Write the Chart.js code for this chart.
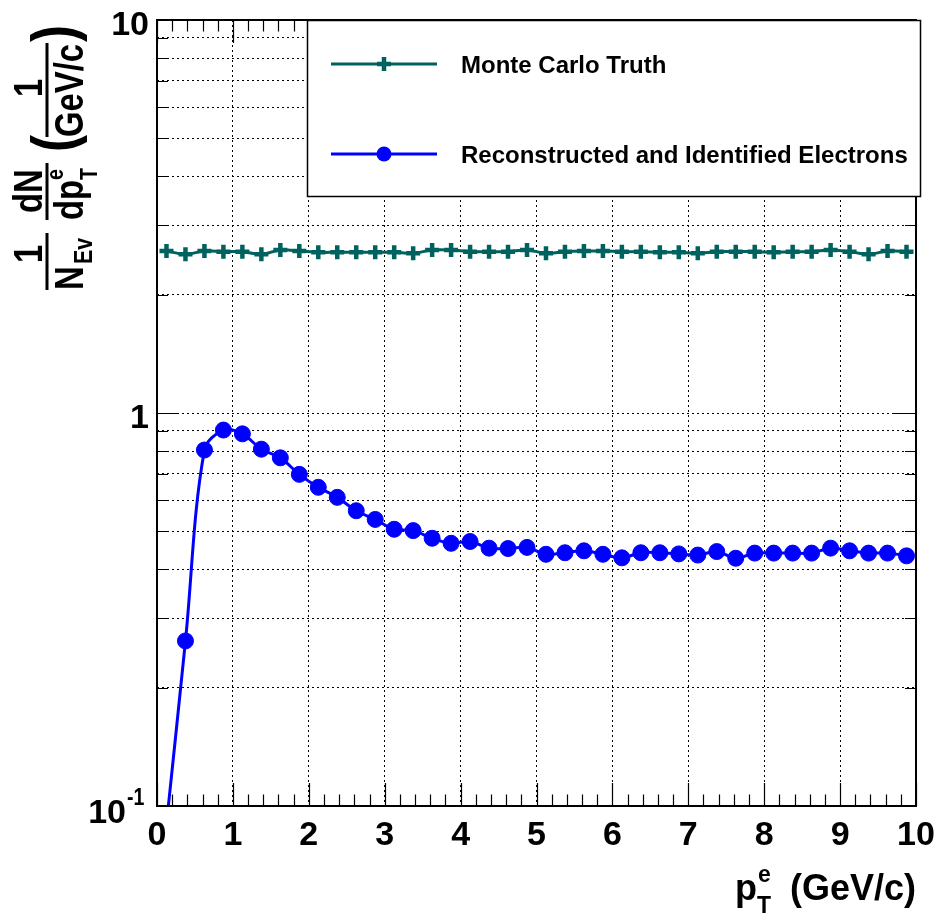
<!DOCTYPE html>
<html>
<head>
<meta charset="utf-8">
<script src="https://cdn.jsdelivr.net/npm/chart.js@4.4.0/dist/chart.umd.min.js"></script>
<style>
  html, body { margin: 0; padding: 0; background: #fff; }
  canvas { display: block; }
</style>
</head>
<body>
<canvas id="spectrum" width="941" height="916"></canvas>
<script>
// bin centres in pT (GeV/c)
const ptBins = [0.125, 0.375, 0.625, 0.875, 1.125, 1.375, 1.625, 1.875, 2.125, 2.375,
  2.625, 2.875, 3.125, 3.375, 3.625, 3.875, 4.125, 4.375, 4.625, 4.875,
  5.125, 5.375, 5.625, 5.875, 6.125, 6.375, 6.625, 6.875, 7.125, 7.375,
  7.625, 7.875, 8.125, 8.375, 8.625, 8.875, 9.125, 9.375, 9.625, 9.875];

const mcTruth = [2.584, 2.534, 2.584, 2.574, 2.574, 2.534, 2.599, 2.584, 2.564, 2.564,
  2.564, 2.564, 2.564, 2.549, 2.599, 2.599, 2.574, 2.574, 2.574, 2.599,
  2.549, 2.574, 2.584, 2.584, 2.574, 2.574, 2.564, 2.564, 2.549, 2.574,
  2.574, 2.574, 2.564, 2.574, 2.574, 2.599, 2.574, 2.534, 2.584, 2.574];

const recoElectrons = [0.09, 0.263, 0.805, 0.905, 0.885, 0.809, 0.769, 0.698, 0.647, 0.610,
  0.564, 0.536, 0.506, 0.502, 0.480, 0.466, 0.471, 0.453, 0.452, 0.455,
  0.437, 0.441, 0.446, 0.437, 0.428, 0.441, 0.441, 0.438, 0.435, 0.444,
  0.427, 0.440, 0.440, 0.440, 0.440, 0.453, 0.446, 0.440, 0.440, 0.433];

const seriesNames = ['Monte Carlo Truth', 'Reconstructed and Identified Electrons'];

const xTickValues = [0, 1, 2, 3, 4, 5, 6, 7, 8, 9, 10];
const xTickLabels = ['0', '1', '2', '3', '4', '5', '6', '7', '8', '9', '10'];
const yTickValues = [0.1, 1, 10];
const yTickLabels = [['10', '-1'], ['1', ''], ['10', '']];
const yGridValues = [0.1, 0.2, 0.3, 0.4, 0.5, 0.6, 0.7, 0.8, 0.9,
  1, 2, 3, 4, 5, 6, 7, 8, 9, 10];

const TEAL = '#00625f';
const BLUE = '#0000ff';
const FONT = '"Liberation Sans", Arial, Helvetica, sans-serif';

function bold(size) { return 'bold ' + size + 'px ' + FONT; }

// draw a text run, optionally squeezed along its baseline
function run(ctx, s, x, y, size, squeeze, align) {
  ctx.save();
  ctx.translate(x, y);
  ctx.scale(squeeze || 1, 1);
  ctx.font = bold(size);
  ctx.textAlign = align || 'left';
  ctx.textBaseline = 'alphabetic';
  ctx.fillText(s, 0, 0);
  ctx.restore();
}

function marker(ctx, ds, x, y) {
  ctx.save();
  if (ds.pointStyle === 'cross') {
    const r = ds.pointRadius;
    ctx.strokeStyle = ds.pointBorderColor;
    ctx.lineWidth = ds.pointBorderWidth;
    ctx.beginPath();
    ctx.moveTo(x - r, y); ctx.lineTo(x + r, y);
    ctx.moveTo(x, y - r); ctx.lineTo(x, y + r);
    ctx.stroke();
  } else {
    ctx.fillStyle = ds.pointBackgroundColor;
    ctx.beginPath();
    ctx.arc(x, y, ds.pointRadius - 0.5, 0, Math.PI * 2);
    ctx.fill();
  }
  ctx.restore();
}

// frame, inner tick marks and the boxed legend (drawn over the grid)
const frameAndLegend = {
  id: 'frameAndLegend',
  afterDatasetsDraw(chart) {
    const { ctx, chartArea: a, scales: { x, y } } = chart;
    ctx.save();
    ctx.strokeStyle = '#000';
    ctx.lineWidth = 1.2;
    ctx.beginPath();
    for (let i = 0; i <= 50; i++) {
      const v = i / 5;
      const px = Math.round(x.getPixelForValue(v)) + 0.5;
      const len = (i % 5 === 0) ? 23 : 11.5;
      ctx.moveTo(px, a.bottom); ctx.lineTo(px, a.bottom - len);
      ctx.moveTo(px, a.top); ctx.lineTo(px, a.top + len);
    }
    yGridValues.forEach(v => {
      const py = Math.round(y.getPixelForValue(v)) + 0.5;
      const len = yTickValues.includes(v) ? 22 : 11;
      ctx.moveTo(a.left, py); ctx.lineTo(a.left + len, py);
      ctx.moveTo(a.right, py); ctx.lineTo(a.right - len, py);
    });
    ctx.stroke();
    ctx.lineWidth = 2;
    ctx.strokeRect(a.left, a.top, a.right - a.left, a.bottom - a.top);

    // legend box
    const bx = 307.5, by = 20.5, bw = 613, bh = 176;
    ctx.fillStyle = '#fff';
    ctx.fillRect(bx, by, bw, bh);
    ctx.lineWidth = 1.5;
    ctx.strokeStyle = '#000';
    ctx.strokeRect(bx, by, bw, bh);
    const rows = [64, 154];
    chart.data.datasets.forEach((ds, i) => {
      const ly = rows[i];
      ctx.strokeStyle = ds.borderColor;
      ctx.lineWidth = 3;
      ctx.beginPath();
      ctx.moveTo(331, ly); ctx.lineTo(437, ly);
      ctx.stroke();
      marker(ctx, ds, 384, ly);
      ctx.fillStyle = '#000';
      run(ctx, ds.label, 461, ly + 9, 24);
    });
    ctx.restore();
  },
  afterDraw(chart) {
    const { ctx, chartArea: a, scales: { x, y } } = chart;
    ctx.save();
    ctx.fillStyle = '#000';
    // x tick labels
    xTickValues.forEach((v, i) => {
      run(ctx, xTickLabels[i], x.getPixelForValue(v), a.bottom + 39, 34, 1, 'center');
    });
    // y tick labels (with exponent)
    yTickValues.forEach((v, i) => {
      const py = y.getPixelForValue(v);
      const [base, expo] = yTickLabels[i];
      if (expo) {
        run(ctx, base, 126, py + 17, 34, 1, 'right');
        run(ctx, expo, 127, py - 1, 23, 0.85, 'left');
      } else {
        run(ctx, base, 149, py + 15, 34, 1, 'right');
      }
    });
    // x title: p_T^e (GeV/c)
    run(ctx, '(GeV/c)', a.right, 900, 36, 1, 'right');
    run(ctx, 'p', 735, 900, 36);
    run(ctx, 'e', 758, 882, 23);
    run(ctx, 'T', 757, 913, 23);

    // y title, rotated: 1/N_Ev dN/dp_T^e (1/(GeV/c))
    ctx.translate(47, 292);
    ctx.rotate(-Math.PI / 2);
    const sq = 0.82;
    ctx.lineWidth = 3;
    ctx.strokeStyle = '#000';
    ctx.beginPath();
    ctx.moveTo(2, 0); ctx.lineTo(59, 0);
    ctx.moveTo(72, 0); ctx.lineTo(129, 0);
    ctx.moveTo(155, 0); ctx.lineTo(249, 0);
    ctx.stroke();
    run(ctx, '1', 29, -5, 40, sq);
    run(ctx, 'N', 2, 36, 40, sq);
    run(ctx, 'Ev', 28, 45, 26, sq);
    run(ctx, 'dN', 79, -5, 40, sq);
    run(ctx, 'dp', 72, 36, 40, sq);
    run(ctx, 'e', 112, 16, 24, sq);
    run(ctx, 'T', 112, 50, 24, sq);
    run(ctx, '(', 140, 27, 62, sq);
    run(ctx, '1', 195, -5, 40, sq);
    run(ctx, 'GeV/c', 155, 36, 40, sq);
    run(ctx, ')', 250, 27, 62, sq);
    ctx.restore();
  }
};

const dotted = { display: false, dash: [2, 3] };

new Chart(document.getElementById('spectrum').getContext('2d'), {
  type: 'line',
  data: {
    datasets: [{
      label: seriesNames[0],
      data: ptBins.map((p, i) => ({ x: p, y: mcTruth[i] })),
      borderColor: TEAL,
      borderWidth: 3,
      tension: 0.35,
      pointStyle: 'cross',
      pointRadius: 7,
      pointBorderWidth: 4.5,
      pointBorderColor: TEAL,
      pointBackgroundColor: TEAL
    }, {
      label: seriesNames[1],
      data: ptBins.map((p, i) => ({ x: p, y: recoElectrons[i] })),
      borderColor: BLUE,
      borderWidth: 3,
      tension: 0.35,
      pointStyle: 'circle',
      pointRadius: 8,
      pointBorderWidth: 1,
      pointBorderColor: BLUE,
      pointBackgroundColor: BLUE
    }]
  },
  options: {
    responsive: false,
    animation: false,
    devicePixelRatio: 1,
    layout: { padding: { left: 157, right: 25, top: 20, bottom: 110 } },
    plugins: {
      legend: { display: false },
      tooltip: { enabled: false }
    },
    scales: {
      x: {
        type: 'linear',
        min: 0,
        max: 10,
        ticks: { display: false, stepSize: 1 },
        grid: { color: '#000', lineWidth: 1, drawTicks: false },
        border: dotted,
        afterFit(s) { s.height = 0; }
      },
      y: {
        type: 'logarithmic',
        min: 0.1,
        max: 10,
        ticks: { display: false },
        afterBuildTicks(s) { s.ticks = yGridValues.map(v => ({ value: v })); },
        grid: { color: '#000', lineWidth: 1, drawTicks: false },
        border: dotted,
        afterFit(s) { s.width = 0; }
      }
    }
  },
  plugins: [frameAndLegend]
});
</script>
</body>
</html>
